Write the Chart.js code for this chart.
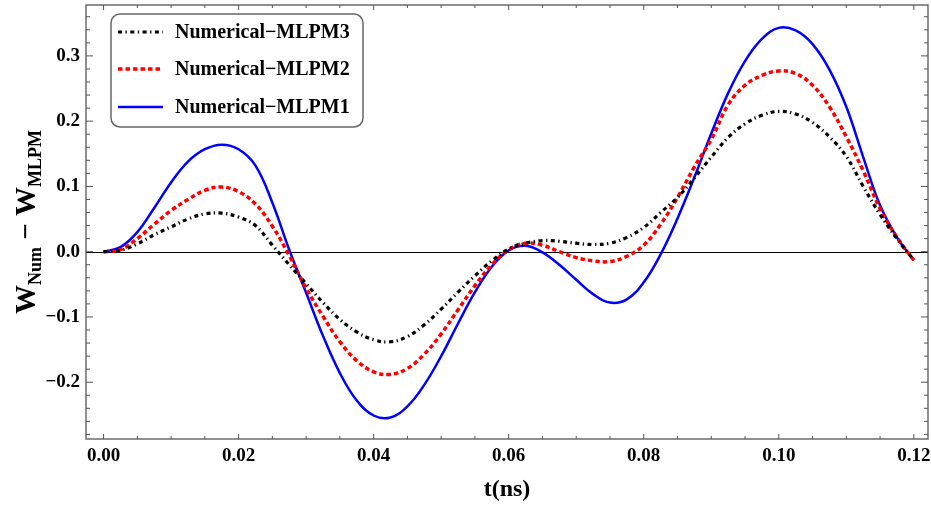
<!DOCTYPE html>
<html>
<head>
<meta charset="utf-8">
<script src="https://cdn.jsdelivr.net/npm/chart.js@4.4.1/dist/chart.umd.min.js"></script>
<style>
  html, body { margin: 0; padding: 0; background: #fff; }
</style>
</head>
<body>
<canvas id="plot" width="931" height="505"></canvas>
<script>
// time axis (ns)
const tValues = [0, 0.0025, 0.005, 0.0075, 0.01, 0.0125, 0.015, 0.0175, 0.02, 0.0225,
  0.025, 0.0275, 0.03, 0.0325, 0.035, 0.0375, 0.04, 0.0425, 0.045, 0.0475,
  0.05, 0.0525, 0.055, 0.0575, 0.06, 0.0625, 0.065, 0.0675, 0.07, 0.0725,
  0.075, 0.0775, 0.08, 0.0825, 0.085, 0.0875, 0.09, 0.0925, 0.095, 0.0975,
  0.1, 0.1025, 0.105, 0.1075, 0.11, 0.1125, 0.115, 0.1175, 0.12];

// W_Num - W_MLPM
const mlpm3 = [0, 0.002, 0.012, 0.026, 0.038, 0.050, 0.058, 0.059, 0.053, 0.040,
  0.010, -0.020, -0.049, -0.078, -0.104, -0.123, -0.135, -0.138, -0.130, -0.112,
  -0.088, -0.062, -0.037, -0.014, 0.004, 0.013, 0.017, 0.016, 0.013, 0.011,
  0.013, 0.022, 0.037, 0.060, 0.083, 0.113, 0.145, 0.175, 0.196, 0.209,
  0.215, 0.211, 0.198, 0.176, 0.146, 0.100, 0.057, 0.020, -0.013];

const mlpm2 = [0, 0.003, 0.020, 0.042, 0.063, 0.080, 0.094, 0.099, 0.092, 0.073,
  0.039, -0.006, -0.056, -0.099, -0.138, -0.167, -0.184, -0.188, -0.179, -0.157,
  -0.126, -0.089, -0.052, -0.020, 0.003, 0.013, 0.010, 0.000, -0.009, -0.014,
  -0.015, -0.007, 0.010, 0.042, 0.083, 0.130, 0.172, 0.225, 0.255, 0.270,
  0.277, 0.273, 0.255, 0.222, 0.176, 0.124, 0.066, 0.022, -0.013];

const mlpm1 = [0, 0.007, 0.030, 0.067, 0.106, 0.138, 0.157, 0.164, 0.157, 0.132,
  0.075, 0.003, -0.063, -0.129, -0.186, -0.228, -0.251, -0.254, -0.237, -0.204,
  -0.160, -0.110, -0.062, -0.023, 0.002, 0.009, -0.001, -0.020, -0.043, -0.065,
  -0.078, -0.073, -0.047, -0.004, 0.051, 0.114, 0.181, 0.243, 0.292, 0.326,
  0.343, 0.339, 0.318, 0.279, 0.222, 0.145, 0.071, 0.022, -0.013];

const seriesLabels = ['Numerical\u2212MLPM3', 'Numerical\u2212MLPM2', 'Numerical\u2212MLPM1'];
const xTicks = [0, 0.02, 0.04, 0.06, 0.08, 0.10, 0.12];
const yTicks = [-0.2, -0.1, 0, 0.1, 0.2, 0.3];

const serif = "'Liberation Serif', 'Times New Roman', serif";
const frameColor = '#555';

function points(ys) {
  return tValues.map((t, i) => ({ x: t, y: ys[i] }));
}

// Mathematica style frame: box, inward ticks on all four sides, zero line
const framePlugin = {
  id: 'frame',
  beforeDatasetsDraw(chart) {
    const { ctx, chartArea: a, scales: { x, y } } = chart;
    ctx.save();
    // zero line
    ctx.strokeStyle = '#000';
    ctx.lineWidth = 1;
    const y0 = Math.round(y.getPixelForValue(0)) + 0.5;
    ctx.beginPath();
    ctx.moveTo(a.left, y0);
    ctx.lineTo(a.right, y0);
    ctx.stroke();

    ctx.strokeStyle = frameColor;
    ctx.lineWidth = 1.3;
    ctx.strokeRect(a.left, a.top, a.right - a.left, a.bottom - a.top);

    ctx.lineWidth = 1;
    ctx.beginPath();
    for (let k = 0; k <= 24; k++) {
      const v = k * 0.005;
      const px = x.getPixelForValue(v);
      const len = k % 4 === 0 ? 5 : 3;
      ctx.moveTo(px, a.bottom); ctx.lineTo(px, a.bottom - len);
      ctx.moveTo(px, a.top); ctx.lineTo(px, a.top + len);
    }
    for (let k = -14; k <= 18; k++) {
      const v = k * 0.02;
      const py = y.getPixelForValue(v);
      if (py < a.top || py > a.bottom) continue;
      const len = k % 5 === 0 ? 7 : 4;
      ctx.moveTo(a.left, py); ctx.lineTo(a.left + len, py);
      ctx.moveTo(a.right, py); ctx.lineTo(a.right - len, py);
    }
    ctx.stroke();
    ctx.restore();
  },
  afterDatasetsDraw(chart) {
    // legend box
    const { ctx } = chart;
    const bx = 111, by = 14, bw = 252, bh = 113;
    ctx.save();
    ctx.fillStyle = '#fff';
    ctx.strokeStyle = '#666';
    ctx.lineWidth = 1.5;
    ctx.beginPath();
    ctx.roundRect(bx, by, bw, bh, 9);
    ctx.fill();
    ctx.stroke();
    const rows = [32, 69, 107];
    chart.data.datasets.forEach((ds, i) => {
      const ry = rows[i];
      ctx.strokeStyle = ds.borderColor;
      ctx.lineWidth = ds.borderWidth;
      ctx.setLineDash(ds.borderDash || []);
      ctx.beginPath();
      ctx.moveTo(118, ry);
      ctx.lineTo(163, ry);
      ctx.stroke();
      ctx.setLineDash([]);
      ctx.fillStyle = '#000';
      ctx.font = 'bold 20px ' + serif;
      ctx.textBaseline = 'middle';
      ctx.textAlign = 'left';
      ctx.fillText(ds.label, 175, ry + 1);
    });
    ctx.restore();
  },
  afterDraw(chart) {
    // y axis title with subscripts
    const { ctx, chartArea: a } = chart;
    const big = 'bold 29px ' + serif;
    const small = 'bold 18px ' + serif;
    const parts = [
      { text: 'W', font: big, dy: 0 },
      { text: 'Num', font: small, dy: 6 },
      { text: ' \u2212 ', font: big, dy: 0 },
      { text: 'W', font: big, dy: 0 },
      { text: 'MLPM', font: small, dy: 6 }
    ];
    ctx.save();
    let total = 0;
    parts.forEach(p => { ctx.font = p.font; p.w = ctx.measureText(p.text).width; total += p.w; });
    ctx.translate(35, (a.top + a.bottom) / 2);
    ctx.rotate(-Math.PI / 2);
    ctx.fillStyle = '#000';
    ctx.textBaseline = 'alphabetic';
    let cx = -total / 2;
    parts.forEach(p => {
      ctx.font = p.font;
      ctx.fillText(p.text, cx, p.dy);
      cx += p.w;
    });
    ctx.restore();
  }
};

new Chart(document.getElementById('plot'), {
  type: 'line',
  data: {
    datasets: [
      {
        label: seriesLabels[0],
        data: points(mlpm3),
        borderColor: '#000',
        borderWidth: 3.2,
        borderDash: [4, 3.5, 1.3, 3.5]
      },
      {
        label: seriesLabels[1],
        data: points(mlpm2),
        borderColor: '#ff0000',
        borderWidth: 3.5,
        borderDash: [4.5, 3]
      },
      {
        label: seriesLabels[2],
        data: points(mlpm1),
        borderColor: '#0000ff',
        borderWidth: 2.5
      }
    ]
  },
  options: {
    responsive: false,
    animation: false,
    devicePixelRatio: 1,
    layout: { padding: { top: 5, right: 3, left: 0, bottom: 0 } },
    elements: {
      point: { radius: 0 },
      line: { tension: 0.4, fill: false }
    },
    plugins: {
      legend: { display: false },
      tooltip: { enabled: false }
    },
    scales: {
      x: {
        type: 'linear',
        min: -0.0026,
        max: 0.1221,
        grid: { display: false, drawTicks: false },
        border: { display: false },
        afterBuildTicks: s => { s.ticks = xTicks.map(v => ({ value: v })); },
        afterFit: s => { s.height = 66; s.paddingLeft = 0; s.paddingRight = 0; },
        ticks: {
          padding: 6,
          color: '#000',
          font: { family: serif, size: 19, weight: 'bold' },
          maxRotation: 0,
          callback: v => v.toFixed(2)
        },
        title: {
          display: true,
          text: 't(ns)',
          color: '#000',
          font: { family: serif, size: 24, weight: 'bold' },
          padding: { top: 0, bottom: 1 }
        }
      },
      y: {
        type: 'linear',
        min: -0.287,
        max: 0.378,
        grid: { display: false, drawTicks: false },
        border: { display: false },
        afterBuildTicks: s => { s.ticks = yTicks.map(v => ({ value: v })); },
        afterFit: s => { s.width = 86; s.paddingTop = 0; s.paddingBottom = 0; },
        ticks: {
          padding: 6,
          color: '#000',
          font: { family: serif, size: 19, weight: 'bold' },
          callback: v => (v < 0 ? '\u2212' : '') + Math.abs(v).toFixed(1)
        }
      }
    }
  },
  plugins: [framePlugin]
});
</script>
</body>
</html>
